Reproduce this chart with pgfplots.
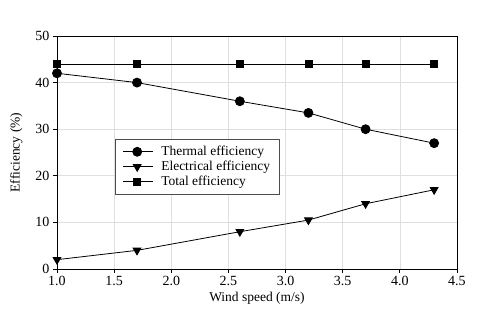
\documentclass[border=0pt]{standalone}
\usepackage{pgfplots}
\pgfplotsset{compat=1.18}
\usepackage{fontspec}
\setmainfont{Liberation Serif}
\begin{document}
\begin{tikzpicture}
\useasboundingbox (-57pt,-41pt) rectangle (423pt,269pt);
\begin{axis}[
  scale only axis,
  width=400pt, height=233pt,
  xmin=1, xmax=4.5, ymin=0, ymax=50,
  xtick={1,1.5,...,4.5},
  ytick={0,10,...,50},
  /pgf/number format/assume math mode=true,
  xticklabel style={/pgf/number format/.cd,fixed,fixed zerofill,precision=1},
  tick label style={font=\fontsize{14}{16}\selectfont},
  label style={font=\fontsize{13.5}{16}\selectfont},
  xlabel={Wind speed (m/s)},
  ylabel={Efficiency (\%)},
  xlabel style={yshift=1pt},
  ylabel style={yshift=6pt},
  grid=major,
  major grid style={gray!25, line width=0.6pt},
  axis line style={black, line width=0.8pt},
  tick align=outside,
  tick style={black, line width=0.8pt},
  major tick length=4pt,
  xtick pos=bottom, ytick pos=left,
  legend style={at={(axis cs:1.51,27.9)}, anchor=north west, draw=black!70, line width=0.6pt,
    font=\fontsize{13.5}{14}\selectfont, inner xsep=7pt, inner ysep=5pt, row sep=0pt,
    column sep=6pt},
  legend cell align=left,
  legend image code/.code={\draw[mark repeat=2,mark phase=2] plot coordinates {(0cm,0cm) (0.5cm,0cm) (1.05cm,0cm)};},
  every axis plot/.append style={black, line width=0.8pt, mark options={solid, fill=black}},
]
\addplot[mark=*, mark size=4.5pt] coordinates {(1.0,42) (1.7,40) (2.6,36) (3.2,33.5) (3.7,30) (4.3,27)};
\addplot[mark=triangle*, mark size=4.5pt, mark options={rotate=180}] coordinates {(1.0,2) (1.7,4) (2.6,8) (3.2,10.5) (3.7,14) (4.3,17)};
\addplot[mark=square*, mark size=3.5pt] coordinates {(1.0,44) (1.7,44) (2.6,44) (3.2,44) (3.7,44) (4.3,44)};
\legend{Thermal efficiency, Electrical efficiency, Total efficiency}
\end{axis}
\end{tikzpicture}
\end{document}
